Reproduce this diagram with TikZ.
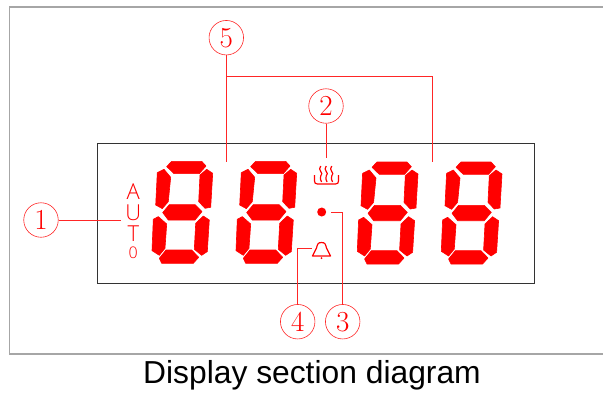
\documentclass[tikz,border=0pt]{standalone}
\usepackage{fontspec}
\newfontfamily\capfont{Liberation Sans}
\newfontfamily\thinfont{Open Sans Light}
\usetikzlibrary{positioning, calc}
\tikzset{
	frame/.style={draw=black!35, line width=1.8pt},
	panel/.style={draw=black!80, line width=0.8pt},
	leader/.style={draw=red!85!white, line width=0.8pt},
	callout/.style={circle, draw=red!85!white, line width=0.6pt, text=red, minimum size=34.5pt, inner sep=0pt, font=\fontsize{29}{30}\selectfont},
	letter/.style={text=red, inner sep=0pt, font=\thinfont\fontsize{22}{24}\selectfont},
	segment/.style={fill=red, draw=red, line width=0.6pt, line join=round},
	symbol/.style={draw=red, line width=1.2pt, line join=round},
}
% one seven segment digit, #1 = top left corner
\newcommand{\segdigit}[1]{
	\begin{scope}[shift={(#1)}]
		\path[segment] (14.7,5.3) -- (19.7,0) -- (49.7,0) -- (54,4.7) -- (47.3,12.3) -- (22,12.3) -- cycle;
		\path[segment] (5.3,11.3) -- (12,8) -- (18.7,16) -- (16.3,40.3) -- (10.3,47.3) -- (3.7,43.7) -- cycle;
		\path[segment] (54.7,8) -- (60.7,12) -- (58.7,46) -- (53,47) -- (46.7,40.3) -- (48,13.7) -- cycle;
		\path[segment] (10.7,51.3) -- (17.3,43.3) -- (43,43.3) -- (50,50.3) -- (43,58.7) -- (16.3,58.7) -- cycle;
		\path[segment] (6.3,55.3) -- (14.7,62.7) -- (13,87) -- (7.3,94) -- (0,89.3) -- (1.3,58) -- cycle;
		\path[segment] (51.3,54.7) -- (57.3,58.7) -- (55.3,90.3) -- (49.7,94) -- (42.3,88) -- (43.7,62) -- cycle;
		\path[segment] (7.3,97) -- (14,88.7) -- (39.7,88.7) -- (46.7,96) -- (41.3,102) -- (9.7,102) -- cycle;
	\end{scope}
}
\begin{document}
\begin{tikzpicture}[x=1pt, y=-1pt]
	\useasboundingbox (0,0) rectangle (603,392);

	\draw[frame] (603,7) -- (9.5,7) -- (9.5,354) -- (603,354);
	\draw[panel] (97,143) rectangle (534,283);

	\segdigit{152,161.3}
	\segdigit{236,161.3}
	\segdigit{357.3,162}
	\segdigit{441.3,162}

	% auto letters
	\node[letter] (autoA) at (133.3,191.5) {A};
	\node[letter] (autoU) at (133.3,212.5) {U};
	\node[letter] (autoT) at (133.3,234) {T};
	\node[letter, font=\thinfont\fontsize{16}{18}\selectfont] (autoO) at (133.3,252.7) {0};

	% heater
	\draw[symbol] (314.5,175) -- (314.5,181) .. controls (314.5,183) and (315.5,184) .. (317.5,184) -- (335.5,184) .. controls (337.5,184) and (338.5,183) .. (338.5,181) -- (338.5,175);
	\foreach \xpos in {320.7,326.2,331.7} {
		\draw[symbol] (\xpos,166) .. controls (\xpos-4,170) and (\xpos+4,173) .. (\xpos,176) .. controls (\xpos-2,178) and (\xpos+1,180) .. (\xpos+0.8,182);
	}

	% dot
	\fill[red] (321.7,212) circle (4.5);

	% bell
	\draw[symbol] (312.5,256) -- (330.5,256) -- (326.5,248) .. controls (325.5,244) and (325,242.5) .. (321.5,242.5) .. controls (318,242.5) and (317.5,244) .. (316.5,248) -- cycle;
	\fill[red] (321.5,258) circle (1);

	\node[callout] (c1) at (41,220) {1};
	\node[callout] (c2) at (326,106) {2};
	\node[callout] (c3) at (342.7,321.7) {3};
	\node[callout] (c4) at (297.7,321.7) {4};
	\node[callout] (c5) at (226.3,37.7) {5};

	\coordinate (end1) at (121,220);
	\coordinate (end2) at (326,158);
	\coordinate (end3) at (330.7,212.3);
	\coordinate (end4) at (311.7,248);
	\coordinate (end5a) at (226.3,162);
	\coordinate (end5b) at (432.3,162);
	\coordinate (join5) at (226.3,76);

	\draw[leader] (c1) -- (end1);
	\draw[leader] (c2) -- (end2);
	\draw[leader] (c3) |- (end3);
	\draw[leader] (c4) |- (end4);
	\draw[leader] (c5) -- (end5a);
	\draw[leader] (join5) -| (end5b);

	\node[inner sep=0pt, anchor=base] (caption) at (312,383) {\capfont\fontsize{31.8}{36}\selectfont Display section diagram};
\end{tikzpicture}
\end{document}
